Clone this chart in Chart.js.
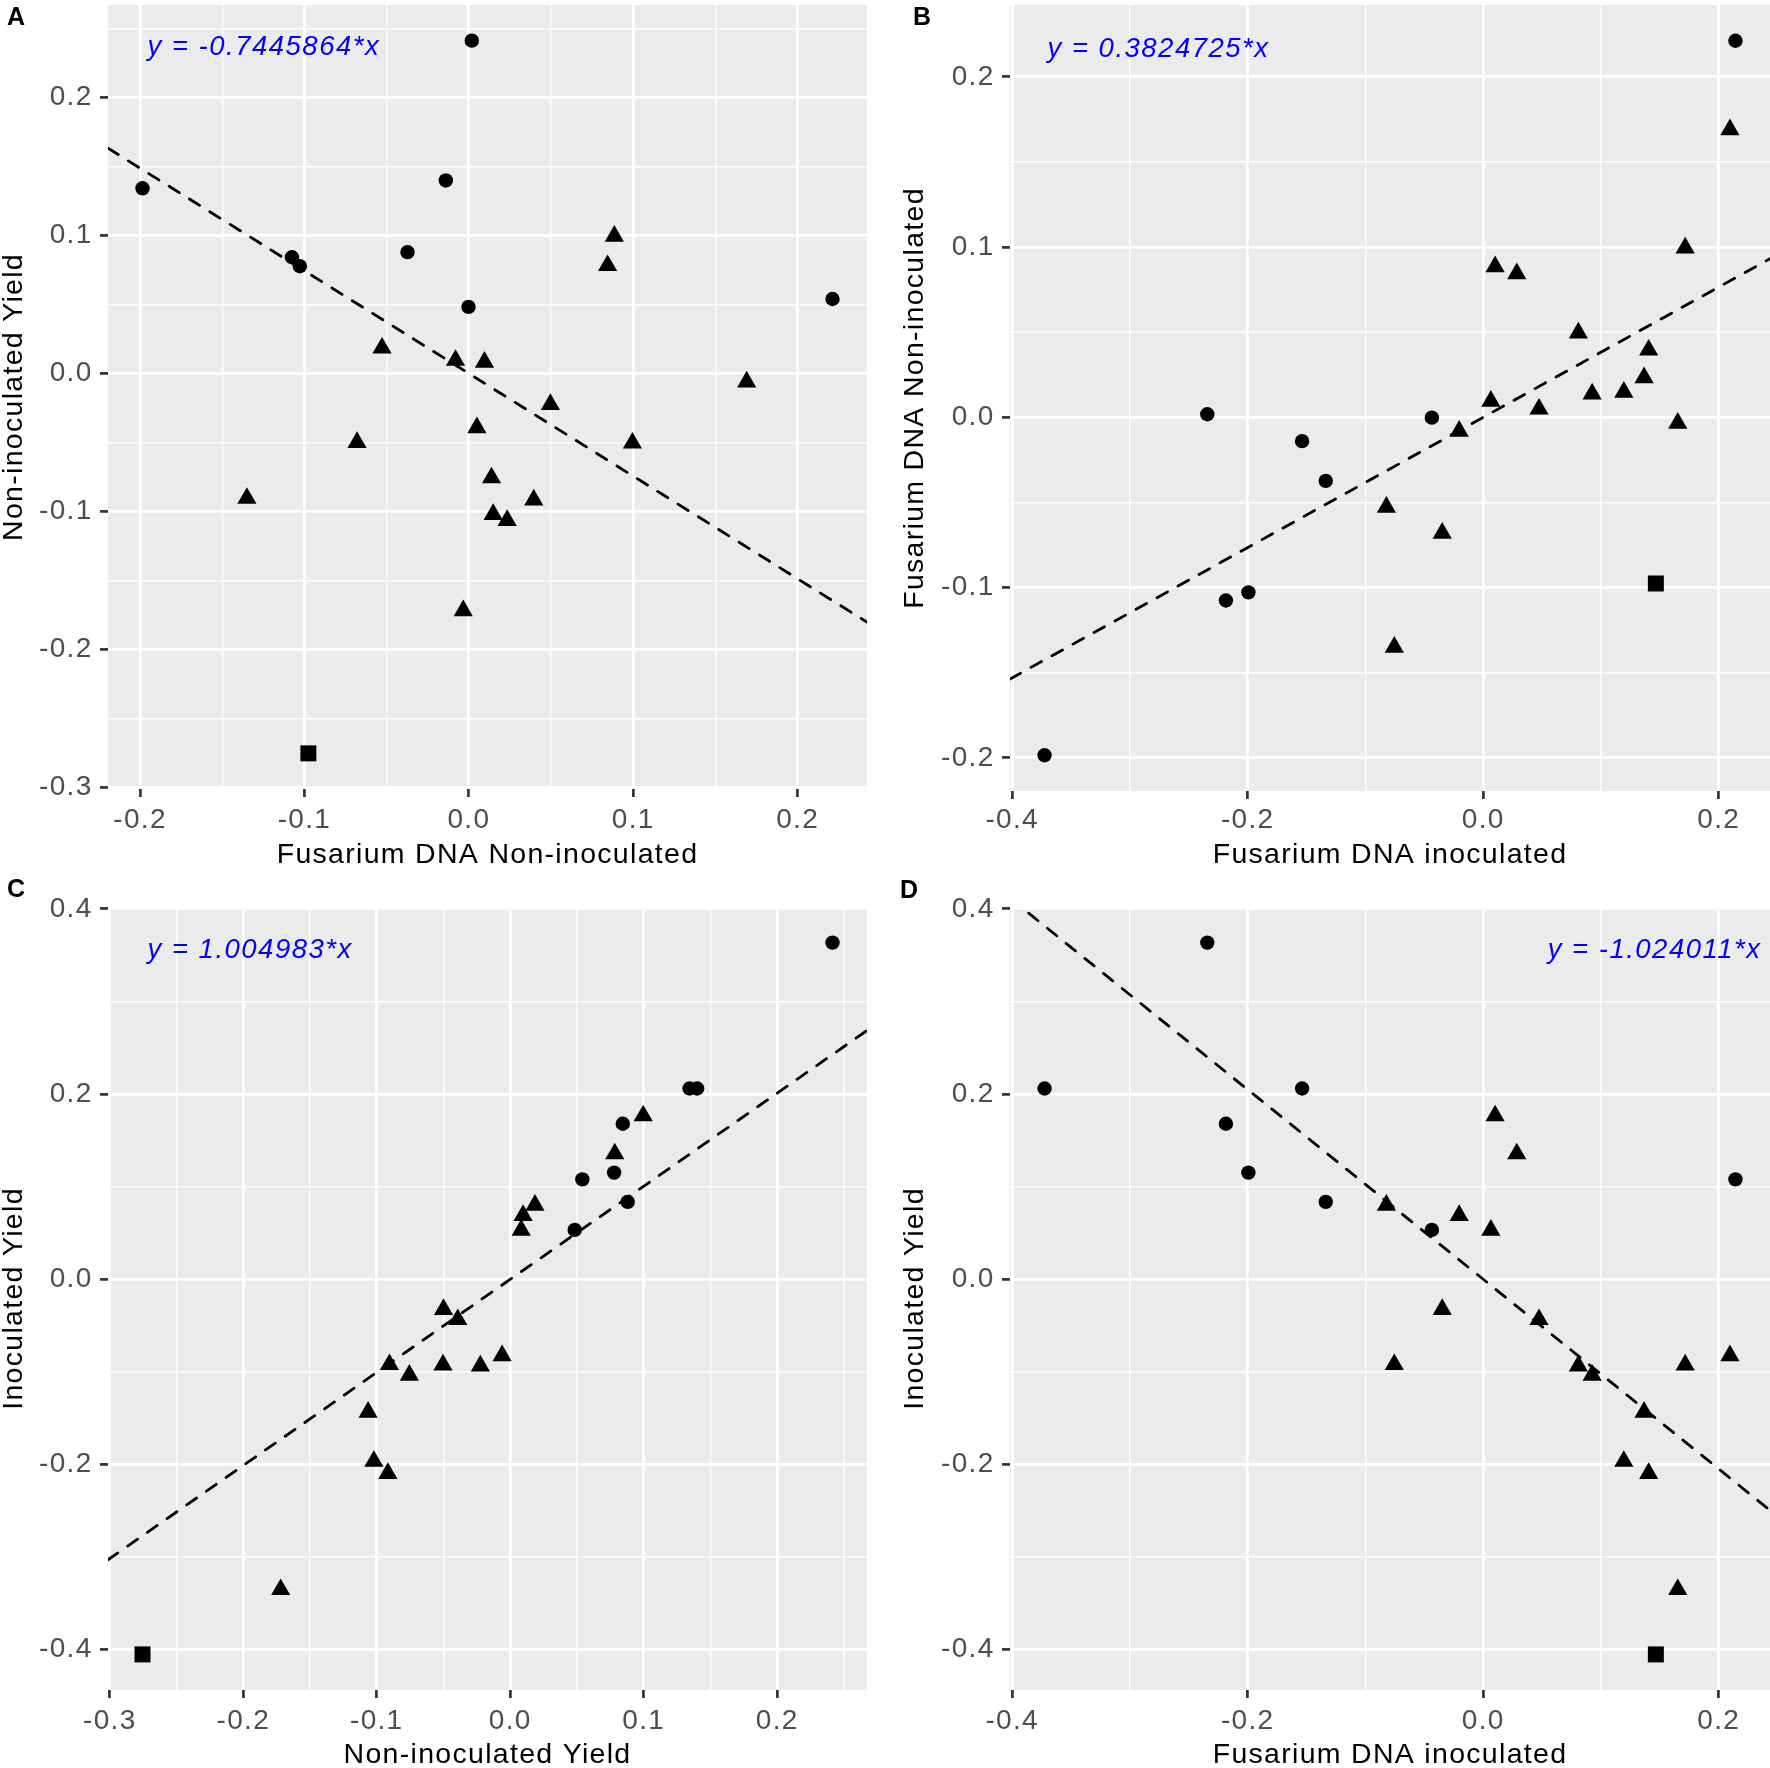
<!DOCTYPE html>
<html>
<head>
<meta charset="utf-8">
<script src="https://cdn.jsdelivr.net/npm/chart.js@4.4.1/dist/chart.umd.min.js"></script>
<style>
html,body{margin:0;padding:0;background:#ffffff;width:1770px;height:1768px;overflow:hidden;position:relative}
canvas{position:absolute;display:block}
</style>
</head>
<body>
<canvas id="pA"></canvas>
<canvas id="pB"></canvas>
<canvas id="pC"></canvas>
<canvas id="pD"></canvas>
<script>
// ---- DATA (one entry per observation; 8 circles, 1 square, 16 triangles) ----
const pointShape = ['circle','circle','circle','circle','circle','circle','circle','circle',
  'square',
  'triangle','triangle','triangle','triangle','triangle','triangle','triangle','triangle',
  'triangle','triangle','triangle','triangle','triangle','triangle','triangle','triangle'];
const fusariumDnaNonInoculated = [-0.1985, 0.2212, -0.1076, -0.1028, -0.014, -0.0373, 0.0018, -0.0002,
  -0.0976,
  -0.135, -0.068, -0.0528, -0.0081, -0.0034, 0.0049, 0.0095, 0.0138,
  0.0148, 0.0233, 0.0395, 0.0496, 0.0844, 0.0885, 0.0995, 0.169];
const fusariumDnaInoculated = [-0.3725, 0.2142, -0.2185, -0.1994, -0.1538, -0.1337, -0.2343, -0.0436,
  0.1466,
  -0.0755, -0.0348, -0.0822, -0.0204, 0.1652, 0.0474, 0.0065, 0.0925,
  0.1194, 0.1366, 0.1405, 0.0808, 0.0285, 0.0101, 0.1715, 0.2095];
const nonInoculatedYield = [0.1343, 0.054, 0.0843, 0.0778, 0.140, 0.088, 0.2414, 0.0483,
  -0.2755,
  -0.0905, -0.050, 0.0185, 0.0096, -0.172, -0.0393, 0.0082, -0.0756,
  -0.1022, -0.1065, -0.0917, -0.0224, 0.0783, 0.0996, -0.0504, -0.0061];
const inoculatedYield = [0.206, 0.1079, 0.1679, 0.1152, 0.206, 0.0836, 0.3635, 0.0533,
  -0.405,
  -0.092, -0.0325, 0.080, 0.069, -0.335, -0.0435, 0.053, -0.1035,
  -0.1965, -0.1435, -0.2095, -0.0935, 0.1355, 0.1765, -0.0925, -0.0825];

const regressionSlopes = [-0.7445864, 0.3824725, 1.004983, -1.024011];
const equationLabels = ['y = -0.7445864*x', 'y = 0.3824725*x', 'y = 1.004983*x', 'y = -1.024011*x'];
const panelLetters = ['A', 'B', 'C', 'D'];

const tickLabelsFusariumNonInoc = ['-0.2', '-0.1', '0.0', '0.1', '0.2'];
const tickLabelsFusariumInoc = ['-0.4', '-0.2', '0.0', '0.2'];
const tickLabelsYieldNonInoc = ['-0.3', '-0.2', '-0.1', '0.0', '0.1', '0.2'];
const tickLabelsYieldInoc = ['-0.4', '-0.2', '0.0', '0.2', '0.4'];

const titleFusariumNonInoc = 'Fusarium DNA Non-inoculated';
const titleFusariumInoc = 'Fusarium DNA inoculated';
const titleYieldNonInoc = 'Non-inoculated Yield';
const titleYieldInoc = 'Inoculated Yield';

// ---- VARIABLES ----
const variables = {
  FN: {values: fusariumDnaNonInoculated, ticks: tickLabelsFusariumNonInoc, title: titleFusariumNonInoc},
  FI: {values: fusariumDnaInoculated, ticks: tickLabelsFusariumInoc, title: titleFusariumInoc},
  YN: {values: nonInoculatedYield, ticks: tickLabelsYieldNonInoc, title: titleYieldNonInoc},
  YI: {values: inoculatedYield, ticks: tickLabelsYieldInoc, title: titleYieldInoc}
};

// ---- LAYOUT / STYLE ----
const FONT = '"Liberation Sans", Arial, Helvetica, sans-serif';
const TEXT_SPACING = '1.3px';
const panelLayouts = [
  {canvas:'pA', x:'FN', y:'YN', left:0,   top:0,   width:885, height:884, padTop:5,  padRight:18, yAxisW:108, xAxisH:95, xTickPad:9, xTitlePad:14.2, yTitlePad:0,     letterX:7,  letterY:25, eqAlign:'left',  eqDx:39.5, eqDy:50},
  {canvas:'pB', x:'FI', y:'FN', left:885, top:0,   width:885, height:884, padTop:5,  padRight:0,  yAxisW:125, xAxisH:93, xTickPad:7, xTitlePad:14.2, yTitlePad:15.75, letterX:28, letterY:25, eqAlign:'left',  eqDx:37.5, eqDy:51.5},
  {canvas:'pC', x:'YN', y:'YI', left:0,   top:860, width:885, height:926, padTop:47, padRight:18, yAxisW:108, xAxisH:96, xTickPad:9, xTitlePad:16.5, yTitlePad:0,     letterX:7,  letterY:37, eqAlign:'left',  eqDx:39.5, eqDy:51.3},
  {canvas:'pD', x:'FI', y:'YI', left:885, top:860, width:885, height:926, padTop:47, padRight:0,  yAxisW:125, xAxisH:96, xTickPad:9, xTitlePad:16.5, yTitlePad:16.25, letterX:15, letterY:38, eqAlign:'right', eqDx:-8.5, eqDy:51.4}
];

const shapeStyles = [
  {shape:'circle',   style:'circle',   radius:7.2},
  {shape:'square',   style:'rect',     radius:11.3},
  {shape:'triangle', style:'triangle', radius:11.1}
];

function expandedRange(vals) {
  const mn = Math.min(...vals), mx = Math.max(...vals);
  const d = (mx - mn) * 0.05;
  return [mn - d, mx + d];
}

function axisConfig(varKey, isX, L) {
  const v = variables[varKey];
  const range = expandedRange(v.values);
  const labels = v.ticks;
  const majors = labels.map(parseFloat);
  const step = majors[1] - majors[0];
  const all = majors.slice();
  for (let i = -1; i < majors.length; i++) {
    const m = i < 0 ? majors[0] - step / 2 : majors[i] + step / 2;
    if (m > range[0] && m < range[1]) all.push(m);
  }
  all.sort((a, b) => a - b);
  const isMajor = (val) => majors.some(m => Math.abs(m - val) < 1e-9);
  const labelFor = (val) => {
    const k = majors.findIndex(m => Math.abs(m - val) < 1e-9);
    return k >= 0 ? labels[k] : '';
  };
  const tickMajor = (c) => c && c.tick ? isMajor(c.tick.value) : true;
  return {
    type: 'linear',
    position: isX ? 'bottom' : 'left',
    min: range[0],
    max: range[1],
    afterBuildTicks: (s) => { s.ticks = all.map(val => ({value: val})); },
    afterFit: (s) => {
      if (isX) s.height = L.xAxisH; else s.width = L.yAxisW;
      s.paddingLeft = 0; s.paddingRight = 0; s.paddingTop = 0; s.paddingBottom = 0;
    },
    ticks: {
      autoSkip: false, maxRotation: 0, minRotation: 0,
      padding: isX ? L.xTickPad : 7.5,
      color: '#4D4D4D',
      font: {family: FONT, size: 28, lineHeight: 1},
      callback: (val) => labelFor(val)
    },
    grid: {
      color: '#FFFFFF',
      lineWidth: (c) => tickMajor(c) ? 2.8 : 1.4,
      drawTicks: true,
      tickLength: 8,
      tickColor: (c) => tickMajor(c) ? '#333333' : 'rgba(0,0,0,0)',
      tickWidth: (c) => tickMajor(c) ? 2.7 : 0
    },
    border: {display: false},
    title: {
      display: true,
      text: v.title,
      color: '#000000',
      font: {family: FONT, size: 28.5, lineHeight: 1},
      padding: isX ? {top: 0, bottom: L.xTitlePad} : {top: L.yTitlePad, bottom: 0}
    }
  };
}

function decorPlugin(L, idx) {
  return {
    id: 'panelDecor',
    beforeDraw(chart) {
      const {ctx, chartArea: a} = chart;
      ctx.save();
      ctx.fillStyle = '#EBEBEB';
      ctx.fillRect(a.left, a.top, a.right - a.left, a.bottom - a.top);
      ctx.restore();
      ctx.letterSpacing = TEXT_SPACING;
    },
    afterDraw(chart) {
      const {ctx, chartArea: a} = chart;
      ctx.save();
      ctx.letterSpacing = '1.5px';
      ctx.font = 'italic 27.5px ' + FONT;
      ctx.fillStyle = '#0000FF';
      ctx.textBaseline = 'alphabetic';
      ctx.textAlign = L.eqAlign;
      const ex = L.eqAlign === 'left' ? a.left + L.eqDx : a.right + L.eqDx;
      ctx.fillText(equationLabels[idx], ex, a.top + L.eqDy);
      ctx.letterSpacing = '0px';
      ctx.font = 'bold 25px ' + FONT;
      ctx.fillStyle = '#000000';
      ctx.textAlign = 'left';
      ctx.fillText(panelLetters[idx], L.letterX, L.letterY);
      ctx.restore();
    }
  };
}

panelLayouts.forEach((L, idx) => {
  const canvas = document.getElementById(L.canvas);
  canvas.width = L.width; canvas.height = L.height;
  canvas.style.left = L.left + 'px'; canvas.style.top = L.top + 'px';
  canvas.style.width = L.width + 'px'; canvas.style.height = L.height + 'px';

  const xs = variables[L.x].values, ys = variables[L.y].values;
  const xr = expandedRange(xs);
  const slope = regressionSlopes[idx];

  const datasets = [{
    label: 'fit',
    data: [{x: xr[0], y: slope * xr[0]}, {x: xr[1], y: slope * xr[1]}],
    showLine: true,
    borderColor: '#000000',
    borderWidth: 2.8,
    borderDash: [12, 12],
    borderCapStyle: 'round',
    pointRadius: 0,
    tension: 0,
    fill: false,
    clip: 0
  }];
  shapeStyles.forEach(g => {
    const pts = [];
    pointShape.forEach((s, i) => { if (s === g.shape) pts.push({x: xs[i], y: ys[i]}); });
    datasets.push({
      label: g.shape,
      data: pts,
      pointStyle: g.style,
      pointRadius: g.radius,
      pointHoverRadius: g.radius,
      pointBackgroundColor: '#000000',
      pointBorderColor: '#000000',
      pointBorderWidth: 0,
      showLine: false
    });
  });

  new Chart(canvas, {
    type: 'scatter',
    data: {datasets},
    options: {
      responsive: false,
      animation: false,
      devicePixelRatio: 1,
      events: [],
      layout: {autoPadding: false, padding: {left: 0, top: L.padTop, right: L.padRight, bottom: 0}},
      plugins: {legend: {display: false}, tooltip: {enabled: false}},
      scales: {
        x: axisConfig(L.x, true, L),
        y: axisConfig(L.y, false, L)
      }
    },
    plugins: [decorPlugin(L, idx)]
  });
});
</script>
</body>
</html>
